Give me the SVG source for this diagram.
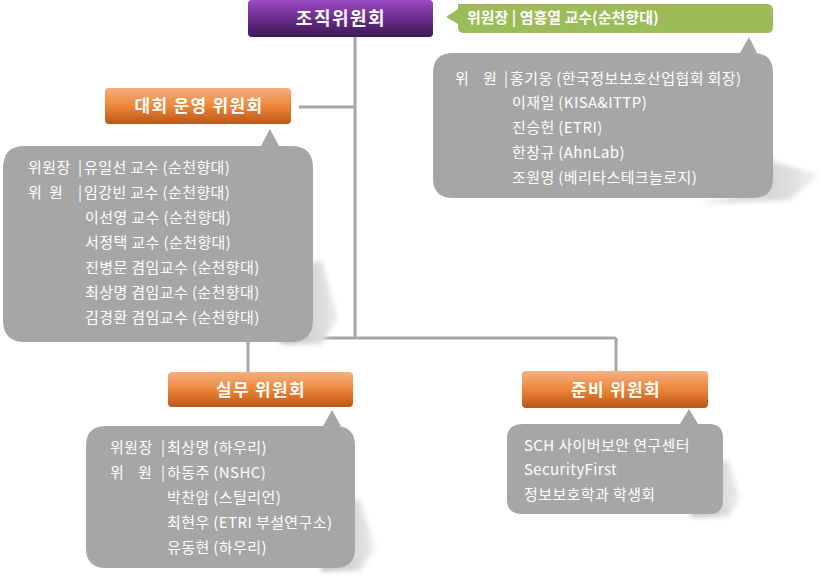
<svg xmlns="http://www.w3.org/2000/svg" width="830" height="578" viewBox="0 0 830 578">
<defs>
<linearGradient id="gPurple" x1="0" y1="0" x2="0" y2="1">
<stop offset="0" stop-color="#9a4cc2"/>
<stop offset="0.5" stop-color="#6a2c8a"/>
<stop offset="1" stop-color="#3e1a56"/>
</linearGradient>
<linearGradient id="gOrange" x1="0" y1="0" x2="0" y2="1">
<stop offset="0" stop-color="#f4b084"/>
<stop offset="0.5" stop-color="#ec8638"/>
<stop offset="1" stop-color="#bb5617"/>
</linearGradient>
<linearGradient id="gShadow" x1="0" y1="0" x2="1" y2="0">
<stop offset="0" stop-color="#b8b8b8"/>
<stop offset="1" stop-color="#ececec"/>
</linearGradient>
<filter id="blur" x="-20%" y="-20%" width="140%" height="140%">
<feGaussianBlur stdDeviation="2.5"/>
</filter>
</defs>
<style>
.t{font-family:"Noto Sans CJK KR","Noto Sans",sans-serif;fill:#ffffff;}
.title{font-size:18px;font-weight:bold;letter-spacing:1.5px;}
.head{font-size:17px;font-weight:bold;letter-spacing:1.3px;}
.green{font-size:15px;font-weight:bold;}
.body{font-size:15px;letter-spacing:0.4px;}
.gray{fill:#a6a6a6;}
.line{stroke:#a6a6a6;stroke-width:3;fill:none;}
.shadow{fill:url(#gShadow);filter:url(#blur);}
</style>

<g id="connectors">
<path class="line" d="M355,37 V338"/>
<path class="line" d="M299,107 H355"/>
<path class="line" d="M248,338 H616"/>
<path class="line" d="M248,338 V372"/>
<path class="line" d="M616,338 V371"/>
</g>

<g id="org-committee">
<rect x="248" y="0" width="185" height="37" rx="4" fill="url(#gPurple)"/>
<text class="t title" x="341" y="25" text-anchor="middle">조직위원회</text>
</g>

<g id="org-chair">
<path d="M446,17 L458,9 L458,4 H767 Q773,4 773,10 V27 Q773,33 767,33 H464 Q458,33 458,27 V24 Z" fill="#9dbb58"/>
<text class="t green" x="467" y="23">위원장 | 염흥열 교수(순천향대)</text>
</g>

<g id="org-members">
<path class="shadow" d="M700,203 L790,200 L818,175 L770,160 L760,195 Z"/>
<path class="gray" d="M453,53 H740 L749,37 L757,53 H753 Q773,53 773,73 V178 Q773,198 753,198 H453 Q433,198 433,178 V73 Q433,53 453,53 Z"/>
<text class="t body" x="455" y="84">위<tspan x="483">원</tspan><tspan x="504">|</tspan><tspan x="510">홍기웅 (한국정보보호산업협회 회장)</tspan></text>
<text class="t body" x="512" y="108">이재일 (KISA&amp;ITTP)</text>
<text class="t body" x="512" y="133">진승헌 (ETRI)</text>
<text class="t body" x="512" y="158">한창규 (AhnLab)</text>
<text class="t body" x="512" y="183">조원영 (베리타스테크놀로지)</text>
</g>

<g id="ops-committee">
<rect x="105" y="88" width="186" height="36" rx="4" fill="url(#gOrange)"/>
<text class="t head" x="199" y="112" text-anchor="middle">대회 운영 위원회</text>
</g>

<g id="ops-members">
<path class="shadow" d="M280,344 L322,344 L338,318 L322,262 L312,262 Z"/>
<path class="gray" d="M25,146 H261 L270,129 L279,146 H291 Q313,146 313,168 V320 Q313,342 291,342 H25 Q3,342 3,320 V168 Q3,146 25,146 Z"/>
<text class="t body" x="28" y="173">위원장<tspan x="78">|</tspan><tspan x="84">유일선 교수 (순천향대)</tspan></text>
<text class="t body" x="28" y="198">위<tspan x="49">원</tspan><tspan x="78">|</tspan><tspan x="84">임강빈 교수 (순천향대)</tspan></text>
<text class="t body" x="85" y="223">이선영 교수 (순천향대)</text>
<text class="t body" x="85" y="248">서정택 교수 (순천향대)</text>
<text class="t body" x="85" y="273">진병문 겸임교수 (순천향대)</text>
<text class="t body" x="85" y="298">최상명 겸임교수 (순천향대)</text>
<text class="t body" x="85" y="323">김경환 겸임교수 (순천향대)</text>
</g>

<g id="work-committee">
<rect x="168" y="372" width="185" height="35" rx="4" fill="url(#gOrange)"/>
<text class="t head" x="261" y="396" text-anchor="middle">실무 위원회</text>
</g>

<g id="work-members">
<path class="shadow" d="M320,571 L360,571 L375,548 L360,500 L352,500 Z"/>
<path class="gray" d="M106,426 H323 L332,410 L341,426 H335 Q355,426 355,446 V548 Q355,568 335,568 H106 Q86,568 86,548 V446 Q86,426 106,426 Z"/>
<text class="t body" x="110" y="453">위원장<tspan x="161">|</tspan><tspan x="167">최상명 (하우리)</tspan></text>
<text class="t body" x="110" y="478">위<tspan x="138">원</tspan><tspan x="161">|</tspan><tspan x="167">하동주 (NSHC)</tspan></text>
<text class="t body" x="167" y="503">박찬암 (스틸리언)</text>
<text class="t body" x="167" y="528">최현우 (ETRI 부설연구소)</text>
<text class="t body" x="167" y="553">유동현 (하우리)</text>
</g>

<g id="prep-committee">
<rect x="522" y="371" width="186" height="37" rx="4" fill="url(#gOrange)"/>
<text class="t head" x="616" y="396" text-anchor="middle">준비 위원회</text>
</g>

<g id="prep-members">
<path class="shadow" d="M690,517 L728,517 L740,498 L728,460 L720,460 Z"/>
<path class="gray" d="M523,424 H680 L689,409 L698,424 H709 Q723,424 723,438 V500 Q723,514 709,514 H523 Q507,514 507,500 V438 Q507,424 523,424 Z"/>
<text class="t body" x="524" y="451">SCH 사이버보안 연구센터</text>
<text class="t body" x="524" y="475">SecurityFirst</text>
<text class="t body" x="524" y="500">정보보호학과 학생회</text>
</g>
</svg>
